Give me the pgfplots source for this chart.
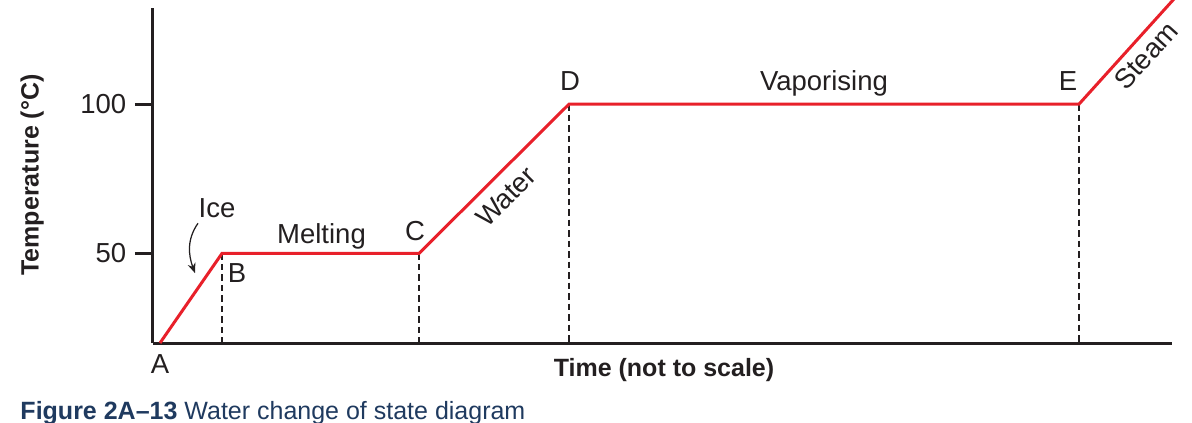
\documentclass[border=0pt]{standalone}
\usepackage{fontspec}
\setmainfont{Liberation Sans}
\usepackage{pgfplots}
\pgfplotsset{compat=1.18}
\usetikzlibrary{arrows.meta}
\definecolor{linered}{HTML}{E8202A}
\definecolor{navy}{HTML}{1F3A5F}
\definecolor{txt}{HTML}{231F20}
\newcommand{\lab}{\fontsize{11}{13}\selectfont}
\begin{document}
\begin{tikzpicture}
\useasboundingbox (-61.2pt,-31.6pt) rectangle (415.6pt,137.2pt);
\begin{axis}[
  at={(0pt,0pt)}, anchor=south west,
  scale only axis, width=407.6pt, height=134pt,
  xmin=0, xmax=1019, ymin=20, ymax=132.2,
  axis x line=bottom, axis y line=left,
  axis line style={-, line width=1.2pt, txt},
  xtick=\empty, ytick={50,100},
  tick align=outside, major tick length=7.2pt,
  tick style={line width=1.2pt, txt},
  yticklabel style={font=\lab, text=txt},
  /pgf/number format/assume math mode=true,
  clip=false,
  xlabel={Time (not to scale)},
  ylabel={Temperature (°C)},
  xlabel style={at={(axis description cs:0.5015,-0.0806)}, anchor=center, font=\bfseries\fontsize{10}{12}\selectfont, text=txt},
  ylabel style={at={(axis description cs:-0.1187,0.5015)}, anchor=center, rotate=0, font=\bfseries\fontsize{10}{12}\selectfont, text=txt},
]
% dashed drop lines
\addplot[txt, line width=0.7pt, dash pattern=on 2.6pt off 1.6pt] coordinates {(69,50) (69,20)};
\addplot[txt, line width=0.7pt, dash pattern=on 2.6pt off 1.6pt] coordinates {(266,50) (266,20)};
\addplot[txt, line width=0.45pt, dash pattern=on 2.6pt off 1.6pt] coordinates {(416,100) (416,20)};
\addplot[txt, line width=0.45pt, dash pattern=on 2.6pt off 1.6pt] coordinates {(926,100) (926,20)};
% heating curve
\addplot[linered, line width=1.2pt, line join=miter] coordinates {
  (7,20) (69,50) (266,50) (416,100) (926,100) (1022,135.6)
};
% labels
\node[font=\lab, text=txt, anchor=base] at (axis cs:7,9.9) {A};
\node[font=\lab, text=txt, anchor=base] at (axis cs:84,40.3) {B};
\node[font=\lab, text=txt, anchor=base] at (axis cs:262,54.4) {C};
\node[font=\lab, text=txt, anchor=base] at (axis cs:417,104.5) {D};
\node[font=\lab, text=txt, anchor=base] at (axis cs:915,104.5) {E};
\node[font=\lab, text=txt, anchor=base] at (axis cs:64,62.1) {Ice};
\node[font=\lab, text=txt, anchor=base] at (axis cs:168.5,53.4) {Melting};
\node[font=\lab, text=txt, anchor=base] at (axis cs:671,104.5) {Vaporising};
\node[font=\lab, text=txt, anchor=center, rotate=45] at (axis cs:353,69.0) {Water};
\node[font=\lab, text=txt, anchor=center, rotate=48] at (axis cs:993,116.3) {Steam};
\draw[txt, line width=0.5pt, -{Stealth[length=4pt,width=3.2pt]}] (axis cs:45,60.1) to[out=235,in=110] (axis cs:42,43.4);
\end{axis}
\node[anchor=base west, inner sep=0pt, text=navy, font=\fontsize{10}{12}\selectfont] at (-53.2pt,-30.4pt) {\textbf{Figure 2A–13} Water change of state diagram};
\end{tikzpicture}
\end{document}
